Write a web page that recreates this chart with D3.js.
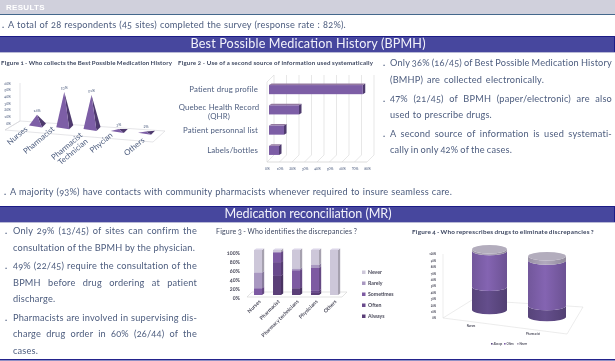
<!DOCTYPE html>
<html>
<head>
<meta charset="utf-8">
<script src="https://cdn.jsdelivr.net/npm/d3@7"></script>
<style>
html, body { margin: 0; padding: 0; background: #fff; }
svg { display: block; filter: blur(0.3px); }
text { font-family: Lato, "Open Sans", sans-serif; font-variant-numeric: oldstyle-nums; }
</style>
</head>
<body>
<svg id="chart" width="615" height="361"></svg>
<script>
// figure 1
var fig1Cats = ["Nurses", "Pharmacist", "Pharmacist Technician", "Phycian", "Others"];
var fig1Vals = [16, 53, 51, 3, 2];
var fig1Ticks = [0, 10, 20, 30, 40, 50, 60];

// figure 2
var fig2Cats = ["Patient drug profile", "Quebec Health Record (QHR)", "Patient personnal list", "Labels/bottles"];
var fig2Vals = [75, 24, 12, 8];
var fig2Ticks = [0, 10, 20, 30, 40, 50, 60, 70, 80];

// figure 3
var fig3Cats = ["Nurses", "Pharmacist", "Pharmacy technicians", "Physicians", "Others"];
var fig3Keys = ["Always", "Often", "Sometimes", "Rarely", "Never"];
var fig3Always = [0, 43, 15, 5, 0];
var fig3Often = [0, 30, 0, 5, 0];
var fig3Sometimes = [15, 22, 40, 50, 0];
var fig3Rarely = [35, 0, 3, 7, 0];
var fig3Never = [50, 5, 42, 33, 100];

// figure 4
var fig4Cats = ["Nurses", "Pharmacist"];
var fig4Keys = ["Always", "Often", "Never"];
var fig4Always = [38, 18];
var fig4Often = [59, 75];
var fig4Never = [3, 7];
var fig4Ticks = [0, 10, 20, 30, 40, 50, 60, 70, 80, 90, 100];

// page text
var topLine = "A total of 28 respondents (45 sites) completed the survey (response rate : 82%).";
var bpmhLines = ["Only 36% (16/45) of Best Possible Medication History", "(BMHP) are collected electronically.",
    "47% (21/45) of BPMH (paper/electronic) are also", "used to prescribe drugs.",
    "A second source of information is used systemati-", "cally in only 42% of the cases."];
var majorityLine = "A majority (93%) have contacts with community pharmacists whenever required to insure seamless care.";
var mrLines = ["Only 29% (13/45) of sites can confirm the", "consultation of the BPMH by the physician.",
    "49% (22/45) require the consultation of the", "BPMH before drug ordering at patient", "discharge.",
    "Pharmacists are involved in supervising dis-", "charge drug order in 60% (26/44) of the", "cases."];

var textCol = "#4c5c7e";
var svg = d3.select("#chart");

// stretches the gaps so a line ends where it should
function line(str, x, y, endX, size, col) {
    var t = svg.append("text")
        .attr("x", x).attr("y", y)
        .attr("dy", "0.33em")
        .style("font-size", size + "px")
        .style("letter-spacing", "0.2px")
        .style("fill", col || textCol)
        .text(str);
    var gaps = str.split(" ").length - 1;
    var extra = (endX - x) - t.node().getComputedTextLength();
    if (gaps > 0) t.style("word-spacing", (extra / gaps) + "px");
    return t;
}

function bullet(x, y) {
    svg.append("text").attr("x", x).attr("y", y + 2.5)
        .style("font-size", "9px").style("font-weight", "bold").style("fill", textCol).text(".");
}

function poly(g, pts, fill) {
    return g.append("polygon").attr("points", pts.map(function(p) { return p.join(","); }).join(" ")).style("fill", fill);
}

// header and banners
svg.append("rect").attr("x", 0).attr("y", 0).attr("width", 615).attr("height", 14).style("fill", "#d0d0dc");
svg.append("rect").attr("x", 0).attr("y", 14).attr("width", 615).attr("height", 1).style("fill", "#44688c");
svg.append("text").attr("x", 6).attr("y", 7).attr("dy", "0.35em")
    .style("font-family", "'Liberation Sans', sans-serif").style("font-weight", "bold").style("font-size", "8px")
    .style("letter-spacing", "0.3px").style("fill", "#fff").text("RESULTS");

function banner(y, h, title, w) {
    svg.append("rect").attr("x", 0).attr("y", y).attr("width", 615).attr("height", h).style("fill", "#47479e");
    svg.append("rect").attr("x", 0).attr("y", y).attr("width", 615).attr("height", 1).style("fill", "#1c1c86");
    svg.append("rect").attr("x", 0).attr("y", y + h).attr("width", 615).attr("height", 1).style("fill", "#b9b9d6");
    svg.append("rect").attr("x", 614).attr("y", y).attr("width", 1).attr("height", h).style("fill", "#1c1c86");
    svg.append("text").attr("x", 307 - w / 2 + 1).attr("y", y + h / 2).attr("dy", "0.35em")
        .attr("textLength", w).style("font-size", "12.6px").style("fill", "#f2f2fa").text(title);
}
banner(36, 16, "Best Possible Medication History (BPMH)", 235);
banner(206, 16, "Medication reconciliation (MR)", 167);
svg.append("rect").attr("x", 0).attr("y", 359).attr("width", 615).attr("height", 1.5).style("fill", "#23238c");

// body text
bullet(2, 25);
line(topLine, 8, 25, 346, 9.2);
var bpmhY = [63, 80, 99, 115, 134, 150], bpmhEnd = [612, 544, 612, 492, 612, 512];
bpmhLines.forEach(function(s, i) {
    line(s, 390, bpmhY[i], bpmhEnd[i], 9.2);
    if (i % 2 == 0) bullet(383, bpmhY[i]);
});
bullet(4, 192);
line(majorityLine, 10, 192, 452, 9.2);
var mrY = [231, 248, 266, 283, 299, 318, 334, 351], mrEnd = [197, 195, 197, 197, 56, 197, 197, 38];
mrLines.forEach(function(s, i) {
    line(s, 13, mrY[i], mrEnd[i], 9.2);
    if (i == 0 || i == 2 || i == 5) bullet(5, mrY[i]);
});

// figure titles
function figTitle(str, x, y, endX, size, weight) {
    line(str, x, y, endX, size, "#3c4660").style("font-weight", weight);
}
figTitle("Figure 1 - Who collects the Best Possible Medication History", 1, 63, 170, 6.1, "bold");
figTitle("Figure 2 - Use of a second source of information used systematically", 178, 63, 371, 6.1, "bold");
figTitle("Figure 3 - Who identifies the discrepancies ?", 216, 232, 357, 7, "normal");
figTitle("Figure 4 -  Who represcribes drugs to eliminate discrepancies ?", 412, 232, 591, 6.4, "bold");

// ---- figure 1: pyramids
var f1 = svg.append("g");
var f1x = d3.scalePoint().domain(fig1Cats).range([37, 146]);
var f1y = d3.scaleLinear().domain([0, 60]).range([123, 83]);
var f1floor = d3.scaleLinear().domain([16, 165]).range([123, 133]);

poly(f1, [[20, 121], [165, 131], [153, 142], [5, 130]], "#fff").style("stroke", "#d4d4d8").style("stroke-width", 0.6);
f1.append("path").attr("d", "M20,83V121L5,130").style("fill", "none").style("stroke", "#d4d4d8").style("stroke-width", 0.6);

f1.append("g").attr("transform", "translate(14,0)")
    .call(d3.axisLeft(f1y).tickValues(fig1Ticks).tickSize(0).tickFormat(function(d) { return d + "%"; }))
    .call(function(g) { g.select(".domain").remove(); })
    .selectAll("text").style("font-size", "3.6px").style("fill", textCol);

fig1Cats.forEach(function(c, i) {
    var cx = f1x(c), by = f1floor(cx) + 1;
    var h = f1y(0) - f1y(fig1Vals[i]);
    var apex = [cx, by - h];
    poly(f1, [apex, [cx + 5, by + 2], [cx + 9, by - 2]], "#4e3a6e");
    poly(f1, [apex, [cx - 8, by], [cx + 5, by + 2]], "#7d5ea6");
    f1.append("text").attr("x", cx).attr("y", by - h - 3).attr("text-anchor", "middle")
        .style("font-size", "3.8px").style("fill", textCol).text(fig1Vals[i] + "%");
});

var f1LabelX = [28, 55, 83, 113, 145], f1LabelY = [130, 130, 136, 136, 141];
fig1Cats.forEach(function(c, i) {
    var t = f1.append("text").attr("text-anchor", "end")
        .attr("transform", "translate(" + f1LabelX[i] + "," + f1LabelY[i] + ") rotate(-40)")
        .style("font-size", "7.8px").style("fill", textCol);
    c.split(" ").forEach(function(w, j) {
        t.append("tspan").attr("x", 0).attr("dy", j ? "1.05em" : 0).text(w);
    });
});

// ---- figure 2: horizontal bars
var f2 = svg.append("g");
var f2x = d3.scaleLinear().domain([0, 80]).range([267, 367]);
var f2y = d3.scaleBand().domain(fig2Cats).range([79, 161]).paddingInner(0.55).paddingOuter(0.3);
var f2dx = 7, f2dy = -7, f2bottom = 162;

fig2Ticks.forEach(function(t) {
    f2.append("path").attr("d", "M" + f2x(t) + "," + f2bottom + "l" + f2dx + "," + f2dy + "V75")
        .style("fill", "none").style("stroke", "#dcdcdc").style("stroke-width", 0.7);
});
f2.append("path").attr("d", "M" + f2x(0) + "," + f2bottom + "V82l" + f2dx + ",-7")
    .style("fill", "none").style("stroke", "#dcdcdc").style("stroke-width", 0.7);
f2.append("line").attr("x1", f2x(0)).attr("x2", f2x(80)).attr("y1", f2bottom).attr("y2", f2bottom)
    .style("stroke", "#cfcfcf").style("stroke-width", 0.7);

f2.append("g").attr("transform", "translate(0,164)")
    .call(d3.axisBottom(f2x).tickValues(fig2Ticks).tickSize(0).tickFormat(function(d) { return d + "%"; }))
    .call(function(g) { g.select(".domain").remove(); })
    .selectAll("text").style("font-size", "3.6px").style("fill", textCol);

fig2Cats.forEach(function(c, i) {
    var y0 = f2y(c), bh = f2y.bandwidth(), x0 = f2x(0) + 2, x1 = f2x(fig2Vals[i]) + 2;
    poly(f2, [[x1, y0], [x1 + 2.5, y0 - 1.5], [x1 + 2.5, y0 + bh - 1.5], [x1, y0 + bh]], "#4e3a6e");
    poly(f2, [[x0, y0], [x0 + 2.5, y0 - 1.5], [x1 + 2.5, y0 - 1.5], [x1, y0]], "#94799f");
    f2.append("rect").attr("x", x0).attr("y", y0).attr("width", x1 - x0).attr("height", bh).style("fill", "#7d5ea6");

    var words = c == "Quebec Health Record (QHR)" ? ["Quebec Health Record", "(QHR)"] : [c];
    words.forEach(function(w, j) {
        f2.append("text").attr("x", words.length > 1 ? 219 : 258)
            .attr("y", words.length > 1 ? y0 + 2.5 + j * 9 : y0 + bh / 2).attr("dy", "0.33em")
            .attr("text-anchor", words.length > 1 ? "middle" : "end")
            .style("font-size", "7.8px").style("letter-spacing", "0.15px").style("fill", textCol).text(w);
    });
});

// ---- figure 3: stacked columns
var f3 = svg.append("g");
var f3x = d3.scaleBand().domain(fig3Cats).range([243, 349]).padding(0.58);
var f3y = d3.scaleLinear().domain([0, 100]).range([295, 250]);
var f3colors = d3.scaleOrdinal().domain(fig3Keys).range(["#5b3f78", "#694a8c", "#7d5aa2", "#a998c1", "#cdc7d9"]);
var f3rows = fig3Cats.map(function(c, i) {
    return { cat: c, Always: fig3Always[i], Often: fig3Often[i], Sometimes: fig3Sometimes[i], Rarely: fig3Rarely[i], Never: fig3Never[i] };
});
var f3stack = d3.stack().keys(fig3Keys)(f3rows);

poly(f3, [[247, 297], [252, 292], [347, 292], [342, 297]], "#fff").style("stroke", "#d0d0d0").style("stroke-width", 0.6);

f3.append("g").attr("transform", "translate(243,2.5)")
    .call(d3.axisLeft(f3y).tickValues([0, 20, 40, 60, 80, 100]).tickSize(0).tickFormat(function(d) { return d + "%"; }))
    .call(function(g) { g.select(".domain").remove(); })
    .selectAll("text").style("font-size", "5.4px").style("font-weight", "bold").style("fill", "#4a4a5a");

f3stack.forEach(function(layer) {
    layer.forEach(function(d) {
        if (d[1] == d[0]) return;
        var x0 = f3x(d.data.cat), w = f3x.bandwidth(), top = f3y(d[1]), bot = f3y(d[0]);
        var col = d3.color(f3colors(layer.key));
        poly(f3, [[x0 + w, top], [x0 + w + 2.2, top - 1.6], [x0 + w + 2.2, bot - 1.6], [x0 + w, bot]], col.darker(0.6));
        poly(f3, [[x0, top], [x0 + 2.2, top - 1.6], [x0 + w + 2.2, top - 1.6], [x0 + w, top]], col.brighter(0.2));
        f3.append("rect").attr("x", x0).attr("y", top).attr("width", w).attr("height", bot - top).style("fill", col);
    });
});

fig3Cats.forEach(function(c) {
    f3.append("text").attr("text-anchor", "end")
        .attr("transform", "translate(" + (f3x(c) + f3x.bandwidth() / 2 + 3) + ",302) rotate(-45)")
        .style("font-size", "5.2px").style("font-weight", "bold").style("fill", "#4a4a5a").text(c);
});

fig3Keys.slice().reverse().forEach(function(k, i) {
    var ly = 272 + i * 11;
    f3.append("rect").attr("x", 362).attr("y", ly - 1.5).attr("width", 3.5).attr("height", 3.5).style("fill", f3colors(k));
    f3.append("text").attr("x", 368).attr("y", ly).attr("dy", "0.35em")
        .style("font-size", "5.2px").style("font-weight", "bold").style("fill", "#4a4a5a").text(k);
});

// ---- figure 4: cylinders
var f4 = svg.append("g");
var f4y = d3.scaleLinear().domain([0, 100]).range([318, 254]);
var f4colors = d3.scaleOrdinal().domain(fig4Keys).range(["#5f4a85", "#7d5fa9", "#a8a0b4"]);
var f4rows = fig4Cats.map(function(c, i) { return { cat: c, Always: fig4Always[i], Often: fig4Often[i], Never: fig4Never[i] }; });
var f4stack = d3.stack().keys(fig4Keys)(f4rows);
var f4base = { "Nurses": 310, "Pharmacist": 317 };
var f4center = { "Nurses": 489.5, "Pharmacist": 547 };
var f4rx = { "Nurses": 17.5, "Pharmacist": 19 };

poly(f4, [[443, 318], [472, 300], [583, 307], [567, 334]], "#fff").style("stroke", "#d8d8d8").style("stroke-width", 0.5);
f4.append("line").attr("x1", 443).attr("x2", 443).attr("y1", 254).attr("y2", 318).style("stroke", "#d8d8d8").style("stroke-width", 0.5);

f4.append("g").attr("transform", "translate(439,0)")
    .call(d3.axisLeft(f4y).tickValues(fig4Ticks).tickSize(0).tickFormat(function(d) { return d + "%"; }))
    .call(function(g) { g.select(".domain").remove(); })
    .selectAll("text").style("font-size", "2.8px").style("font-weight", "bold").style("fill", "#4a4a5a");

var defs = svg.append("defs");
var f4grad = function(id, col) {
    var c = d3.color(col);
    var gr = defs.append("linearGradient").attr("id", id);
    gr.append("stop").attr("offset", "0%").attr("stop-color", c.darker(0.25));
    gr.append("stop").attr("offset", "45%").attr("stop-color", c.brighter(0.15));
    gr.append("stop").attr("offset", "100%").attr("stop-color", c.darker(0.4));
};
fig4Keys.forEach(function(k) { f4grad("cyl" + k, f4colors(k)); });

function cylPath(cx, rx, ry, top, bot) {
    return "M" + (cx - rx) + "," + top + "V" + bot + "A" + rx + "," + ry + " 0 0 0 " + (cx + rx) + "," + bot +
        "V" + top + "A" + rx + "," + ry + " 0 0 1 " + (cx - rx) + "," + top + "Z";
}

fig4Cats.forEach(function(c) {
    var cx = f4center[c], rx = f4rx[c], ry = 4.2, base = f4base[c];
    var hs = d3.scaleLinear().domain([0, 100]).range([base, base - (f4y(0) - f4y(100)) * 0.95]);
    f4stack.forEach(function(layer) {
        var d = layer.find(function(e) { return e.data.cat == c; });
        f4.append("path").attr("d", cylPath(cx, rx, ry, hs(d[1]), hs(d[0]))).style("fill", "url(#cyl" + layer.key + ")");
    });
    f4.append("ellipse").attr("cx", cx).attr("cy", hs(100)).attr("rx", rx).attr("ry", ry).style("fill", "#b3adbd");
});

var f4LabelY = { "Nurses": 326, "Pharmacist": 334 }, f4LabelX = { "Nurses": 471, "Pharmacist": 533 };
fig4Cats.forEach(function(c) {
    f4.append("text").attr("x", f4LabelX[c]).attr("y", f4LabelY[c]).attr("dy", "0.35em").attr("text-anchor", "middle")
        .style("font-size", "2.8px").style("font-weight", "bold").style("fill", "#4a4a5a").text(c);
});
fig4Keys.forEach(function(k, i) {
    var lx = 491 + i * 13;
    f4.append("rect").attr("x", lx).attr("y", 343).attr("width", 1.6).attr("height", 1.6).style("fill", f4colors(k));
    f4.append("text").attr("x", lx + 2.4).attr("y", 344).attr("dy", "0.35em")
        .style("font-size", "2.8px").style("font-weight", "bold").style("fill", "#4a4a5a").text(k);
});
</script>
</body>
</html>
